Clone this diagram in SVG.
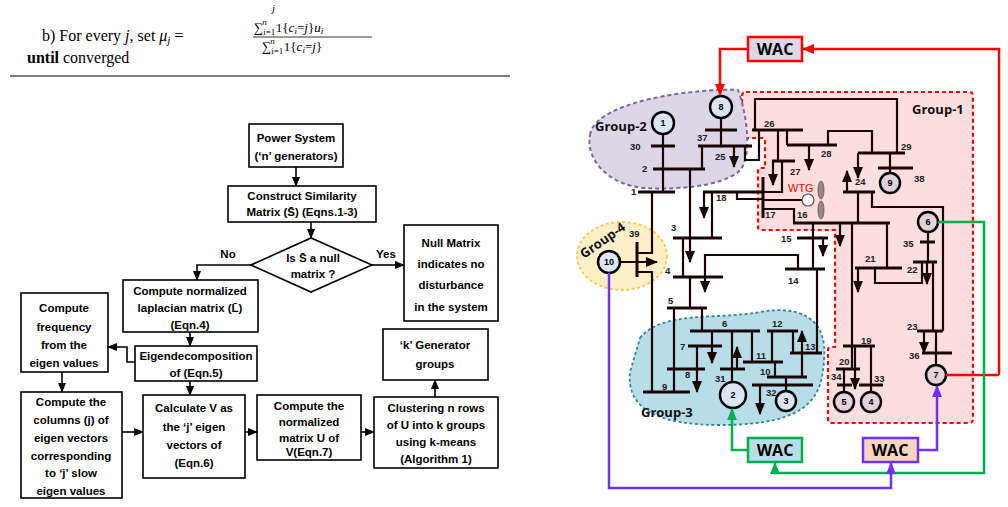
<svg xmlns="http://www.w3.org/2000/svg" width="1008" height="507" viewBox="0 0 1008 507">
<defs>
<marker id="ar" markerUnits="userSpaceOnUse" markerWidth="12" markerHeight="10" refX="11" refY="5" orient="auto"><path d="M0,0 L12,5 L0,10 z" fill="#1a0505"/></marker>
<marker id="af" markerUnits="userSpaceOnUse" markerWidth="10" markerHeight="8" refX="9" refY="4" orient="auto"><path d="M0,0 L10,4 L0,8 z" fill="#000"/></marker>
<marker id="ared" markerUnits="userSpaceOnUse" markerWidth="12" markerHeight="10" refX="11" refY="5" orient="auto"><path d="M0,0 L12,5 L0,10 z" fill="#ff0000"/></marker>
<marker id="agr" markerUnits="userSpaceOnUse" markerWidth="12" markerHeight="10" refX="11" refY="5" orient="auto"><path d="M0,0 L12,5 L0,10 z" fill="#00b050"/></marker>
<marker id="apu" markerUnits="userSpaceOnUse" markerWidth="12" markerHeight="10" refX="11" refY="5" orient="auto"><path d="M0,0 L12,5 L0,10 z" fill="#7030ff"/></marker>
</defs>
<style>
.ser{font-family:"Liberation Serif",serif;fill:#000}
.fb{fill:#fff;stroke:#000;stroke-width:1.6}
.ft{font-family:"Liberation Sans",Arial,sans-serif;font-weight:bold;font-size:11.5px;text-anchor:middle;fill:#000}
.fl{fill:none;stroke:#000;stroke-width:1.6}
.bus{fill:none;stroke:#1a0505;stroke-width:3}
.ln{fill:none;stroke:#1a0505;stroke-width:2.2}
.ld{fill:none;stroke:#1a0505;stroke-width:2.2;marker-end:url(#ar)}
.lb{font-family:"Liberation Sans",Arial,sans-serif;font-weight:bold;font-size:9.5px;fill:#222}
.gen{stroke:#000;stroke-width:2.5}
.gt{font-family:"Liberation Sans",Arial,sans-serif;font-weight:bold;font-size:9px;text-anchor:middle;fill:#000}
.grp{font-family:"Open Sans","Liberation Sans",sans-serif;font-weight:bold;font-size:13px;fill:#111}
.wac{font-family:"Open Sans","Liberation Sans",sans-serif;font-weight:bold;font-size:16px;text-anchor:middle;fill:#000}
.sb{font-size:9px}
</style>
<!-- top text -->
<text class="ser" x="42" y="41" font-size="16">b) For every <tspan font-style="italic">j</tspan>, set <tspan font-style="italic">μ</tspan><tspan font-style="italic" font-size="11" dy="3">j</tspan><tspan dy="-3"> =</tspan></text>
<text class="ser" x="272" y="12" font-size="11" font-style="italic">j</text>
<text class="ser" x="254" y="32" font-size="13">∑<tspan class="sb" dy="3">i=1</tspan><tspan class="sb" dy="-10" dx="-13" font-style="italic">n</tspan><tspan dy="7" dx="9">1{</tspan><tspan font-style="italic">c</tspan><tspan class="sb" font-style="italic" dy="2">i</tspan><tspan dy="-2">=</tspan><tspan font-style="italic">j</tspan><tspan>}</tspan><tspan font-style="italic">u</tspan><tspan class="sb" font-style="italic" dy="2">i</tspan></text>
<line x1="253" y1="37" x2="372" y2="37" stroke="#000" stroke-width="0.8"/>
<text class="ser" x="262" y="51" font-size="13">∑<tspan class="sb" dy="3">i=1</tspan><tspan class="sb" dy="-10" dx="-13" font-style="italic">n</tspan><tspan dy="7" dx="9">1{</tspan><tspan font-style="italic">c</tspan><tspan class="sb" font-style="italic" dy="2">i</tspan><tspan dy="-2">=</tspan><tspan font-style="italic">j</tspan><tspan>}</tspan></text>
<text class="ser" x="27" y="63" font-size="16"><tspan font-weight="bold">until</tspan> converged</text>
<line x1="10" y1="76" x2="510" y2="76" stroke="#000" stroke-width="1"/>

<!-- flowchart -->
<g id="n-power"><rect class="fb" x="249" y="124" width="94" height="43"/><text class="ft" x="296" y="142">Power System</text><text class="ft" x="296" y="160">(‘n’ generators)</text></g>
<g id="n-construct"><rect class="fb" x="228" y="186" width="148" height="36"/><text class="ft" x="302" y="200">Construct Similarity</text><text class="ft" x="302" y="216">Matrix (S̄) (Eqns.1-3)</text></g>
<g id="n-decision"><path class="fb" d="M251,265 L311,238 L372,265 L311,292 Z"/><text class="ft" x="313" y="262">Is S̄ a null</text><text class="ft" x="313" y="278">matrix ?</text></g>
<g id="n-null"><rect class="fb" x="404" y="225" width="94" height="96"/><text class="ft" x="451" y="247">Null Matrix</text><text class="ft" x="451" y="268">indicates no</text><text class="ft" x="451" y="289">disturbance</text><text class="ft" x="451" y="311">in the system</text></g>
<g id="n-lap"><rect class="fb" x="123" y="280" width="135" height="52"/><text class="ft" x="190" y="295">Compute normalized</text><text class="ft" x="190" y="312">laplacian matrix (L̄)</text><text class="ft" x="190" y="329">(Eqn.4)</text></g>
<g id="n-freq"><rect class="fb" x="21" y="293" width="87" height="79"/><text class="ft" x="64" y="312">Compute</text><text class="ft" x="64" y="331">frequency</text><text class="ft" x="64" y="349">from the</text><text class="ft" x="64" y="367">eigen values</text></g>
<g id="n-eig"><rect class="fb" x="135" y="346" width="122" height="35"/><text class="ft" x="196" y="360">Eigendecomposition</text><text class="ft" x="196" y="377">of  (Eqn.5)</text></g>
<g id="n-cols"><rect class="fb" x="21" y="392" width="101" height="106"/><text class="ft" x="71" y="406">Compute the</text><text class="ft" x="71" y="424">columns (j) of</text><text class="ft" x="71" y="442">eigen  vectors</text><text class="ft" x="71" y="460">corresponding</text><text class="ft" x="71" y="477">to ‘j’ slow</text><text class="ft" x="71" y="495">eigen values</text></g>
<g id="n-calcv"><rect class="fb" x="143" y="395" width="102" height="83"/><text class="ft" x="194" y="412">Calculate V as</text><text class="ft" x="194" y="431">the ‘j’ eigen</text><text class="ft" x="194" y="449">vectors of</text><text class="ft" x="194" y="467">(Eqn.6)</text></g>
<g id="n-normu"><rect class="fb" x="257" y="395" width="104" height="65"/><text class="ft" x="309" y="410">Compute the</text><text class="ft" x="309" y="426">normalized</text><text class="ft" x="309" y="442">matrix U of</text><text class="ft" x="309" y="456">V(Eqn.7)</text></g>
<g id="n-clust"><rect class="fb" x="374" y="397" width="124" height="71"/><text class="ft" x="436" y="412">Clustering n rows</text><text class="ft" x="436" y="429">of  U into k groups</text><text class="ft" x="436" y="446">using k-means</text><text class="ft" x="436" y="463">(Algorithm 1)</text></g>
<g id="n-k"><rect class="fb" x="383" y="329" width="105" height="51"/><text class="ft" x="435" y="349">‘k’ Generator</text><text class="ft" x="435" y="368">groups</text></g>
<g id="flow-connectors">
<path class="fl" marker-end="url(#af)" d="M296,167V186"/>
<path class="fl" marker-end="url(#af)" d="M311,222V238"/>
<path class="fl" marker-end="url(#af)" d="M251,265H197V280"/>
<path class="fl" marker-end="url(#af)" d="M372,265H404"/>
<path class="fl" marker-end="url(#af)" d="M190,332V346"/>
<path class="fl" marker-end="url(#af)" d="M135,362H127V347H108"/>
<path class="fl" marker-end="url(#af)" d="M190,381V395"/>
<path class="fl" marker-end="url(#af)" d="M62,372V392"/>
<path class="fl" marker-end="url(#af)" d="M122,432H143"/>
<path class="fl" marker-end="url(#af)" d="M245,432H257"/>
<path class="fl" marker-end="url(#af)" d="M361,432H374"/>
<path class="fl" marker-end="url(#af)" d="M435,397V380"/>
<text class="ft" x="228" y="258">No</text><text class="ft" x="386" y="258">Yes</text>
</g>

<!-- power system groups -->
<g id="group-1"><path d="M746,92 H969 Q973,92 973,96 V419 Q973,423 969,423 H832 Q828,423 828,419 V350 Q828,347 831,347 H835 V230 H761 Q758,230 758,227 V171 Q758,168 761,168 H765 V141 Q765,138 762,138 H742 V96 Q742,92 746,92 Z" fill="#fcdede" stroke="#ff0000" stroke-width="2.2" stroke-dasharray="4,3"/><text class="grp" x="912" y="114">Group-1</text></g>
<g id="group-2"><path d="M590,135 C595,100 700,88 738,90 C746,110 754,160 738,172 C720,186 680,190 645,188 C610,186 585,160 590,135 Z" fill="#dcd6e6" stroke="#8064a2" stroke-width="2" stroke-dasharray="4,3"/><text class="grp" x="595" y="131">Group-2</text></g>
<g id="group-3"><path d="M640,338 C662,310 720,320 760,312 C800,305 828,318 824,360 C822,395 812,425 720,425 C660,425 626,410 630,372 Z" fill="#b7dde8" stroke="#31849b" stroke-width="1.8" stroke-dasharray="3,2.5"/><text class="grp" x="641" y="417">Group-3</text></g>
<g id="group-4"><ellipse cx="622" cy="256" rx="45" ry="34" fill="#fdf0c8" stroke="#f7c948" stroke-width="1.8" stroke-dasharray="3,2.5"/><text class="grp" x="584" y="259" transform="rotate(-35 584 259)">Group-4</text></g>

<g id="network">
<path class="bus" d="M651,146H675 M705,130H737 M698,146H752 M653,169H705 M638,192H675 M637,242V277 M673,238H722 M673,277H723 M703,192H763 M763,177V218 M793,223H890 M772,161H795 M752,130H803 M858,153H905 M787,145H837 M878,168H913 M843,192H875 M797,238H828 M785,269H825 M790,353H822 M855,268H902 M913,262H937 M920,242H935 M917,331H943 M922,353H952 M843,346H875 M836,369H860 M837,385H852 M859,385H883 M667,308H707 M643,392H690 M690,331H760 M688,346H722 M667,369H705 M720,369H745 M743,362H783 M767,331H798 M767,377H807 M752,385H813"/>
<path class="ln" d="M663,134V169 M721,118V146 M702,146V169 M663,169V192 M745,146V160H759V130 M652,192V253H637 M637,272H652V392 M683,238V277 M712,192V238 M737,192V199H763 M763,209H794V223 M778,130V161 M782,161V192H763 M755,130V99H897V153 M787,130V145 M828,145V131H872V153 M890,153V173 M858,192V223 M872,192V207H943V331 M813,223V269 M798,269V255H705V270 M817,269V353 M887,223V268 M875,268V283H922V262 M928,233V262 M933,262V331 M936,331V365 M852,223V369 M871,346V392 M844,369V392 M690,277V308 M674,308V392 M702,308V331 M732,331V382 M752,331V362 M772,331V362 M775,362V377 M793,331V353 M786,377V391 M690,169V238"/>
<path class="ld" d="M690,238V262"/>
<path class="ld" d="M734,146V167"/>
<path class="ld" d="M704,192V218"/>
<path class="ld" d="M773,161V185"/>
<path class="ld" d="M809,145V170"/>
<path class="ld" d="M858,153V178"/>
<path class="ld" d="M847,192V171"/>
<path class="ld" d="M823,238V256"/>
<path class="ld" d="M705,270V292"/>
<path class="ld" d="M840,223V246"/>
<path class="ld" d="M858,268V292"/>
<path class="ld" d="M927,262V284"/>
<path class="ld" d="M924,331V353"/>
<path class="ld" d="M855,346V389"/>
<path class="ld" d="M712,331V363"/>
<path class="ld" d="M697,346V392"/>
<path class="ld" d="M737,369V347"/>
<path class="ld" d="M802,377V331"/>
<path class="ld" d="M760,385V414"/>
<path class="ld" d="M620,262H657"/>
<path d="M763,200H802" class="ln"/>
<circle cx="808" cy="200" r="6" fill="#fff" stroke="#555" stroke-width="1.2"/>
<ellipse cx="821" cy="190" rx="3" ry="9" fill="#a08585" stroke="#6b5555" stroke-width="0.8"/>
<ellipse cx="821" cy="210" rx="3" ry="9" fill="#a08585" stroke="#6b5555" stroke-width="0.8"/>
<text x="788" y="192" font-family="Liberation Sans,Arial,sans-serif" font-size="11" fill="#ff0000">WTG</text>
<g class="lb">
<text x="630" y="150">30</text><text x="642" y="172">2</text><text x="631" y="195">1</text><text x="697" y="141">37</text><text x="715" y="160">25</text><text x="764" y="127">26</text><text x="790" y="175">27</text><text x="821" y="157">28</text><text x="901" y="150">29</text><text x="914" y="182">38</text><text x="855" y="185">24</text><text x="716" y="201">18</text><text x="765" y="218">17</text><text x="797" y="218">16</text><text x="781" y="242">15</text><text x="788" y="284">14</text><text x="671" y="231">3</text><text x="665" y="274">4</text><text x="629" y="237">39</text><text x="668" y="304">5</text><text x="722" y="327">6</text><text x="680" y="350">7</text><text x="685" y="378">8</text><text x="662" y="390">9</text><text x="756" y="359">11</text><text x="772" y="327">12</text><text x="805" y="350">13</text><text x="760" y="375">10</text><text x="715" y="382">31</text><text x="766" y="396">32</text><text x="865" y="262">21</text><text x="907" y="273">22</text><text x="903" y="247">35</text><text x="907" y="330">23</text><text x="909" y="359">36</text><text x="861" y="344">19</text><text x="839" y="365">20</text><text x="831" y="380">34</text><text x="874" y="382">33</text>
</g>
</g>

<g id="g8"><circle class="gen" cx="721" cy="107" r="11" fill="#dce6f2"/><text class="gt" x="721" y="110">8</text></g>
<g id="g1"><circle class="gen" cx="663" cy="123" r="11" fill="#dce6f2"/><text class="gt" x="663" y="126">1</text></g>
<g id="g10"><circle class="gen" cx="609" cy="262" r="11" fill="#dce6f2"/><text class="gt" x="609" y="265">10</text></g>
<g id="g9"><circle class="gen" cx="890" cy="183" r="10" fill="#e4d2da"/><text class="gt" x="890" y="186">9</text></g>
<g id="g6"><circle class="gen" cx="928" cy="222" r="10" fill="#e4d2da"/><text class="gt" x="928" y="225">6</text></g>
<g id="g2"><circle class="gen" cx="733" cy="395" r="13" fill="#dce6f2"/><text class="gt" x="733" y="398">2</text></g>
<g id="g3"><circle class="gen" cx="786" cy="401" r="10" fill="#dce6f2"/><text class="gt" x="786" y="404">3</text></g>
<g id="g5"><circle class="gen" cx="844" cy="402" r="10" fill="#e4d2da"/><text class="gt" x="844" y="405">5</text></g>
<g id="g4"><circle class="gen" cx="871" cy="402" r="10" fill="#e4d2da"/><text class="gt" x="871" y="405">4</text></g>
<g id="g7"><circle class="gen" cx="936" cy="375" r="10" fill="#e4d2da"/><text class="gt" x="936" y="378">7</text></g>

<g id="wac-connectors" fill="none" stroke-width="2.5">
<path stroke="#ff0000" marker-end="url(#ared)" d="M999,375V49H803"/>
<path stroke="#ff0000" marker-end="url(#ared)" d="M747,49H720V95"/>
<path stroke="#ff0000" d="M946,375H999"/>
<path stroke="#00b050" marker-end="url(#agr)" d="M747,450H732V409"/>
<path stroke="#00b050" marker-end="url(#agr)" d="M938,222H984V473H775V463"/>
<path stroke="#7030ff" marker-end="url(#apu)" d="M918,450H937V386"/>
<path stroke="#7030ff" marker-end="url(#apu)" d="M609,273V488H891V463"/>
</g>
<g id="wac-top"><rect x="748" y="37" width="54" height="24" fill="#dcd6e6" stroke="#ff0000" stroke-width="2.5"/><text class="wac" x="775" y="55">WAC</text></g>
<g id="wac-green"><rect x="748" y="438" width="54" height="24" fill="#b7dde8" stroke="#00b050" stroke-width="2.5"/><text class="wac" x="775" y="456">WAC</text></g>
<g id="wac-purple"><rect x="863" y="438" width="55" height="24" fill="#f8d5bd" stroke="#7030ff" stroke-width="2.5"/><text class="wac" x="890" y="456">WAC</text></g>
</svg>
